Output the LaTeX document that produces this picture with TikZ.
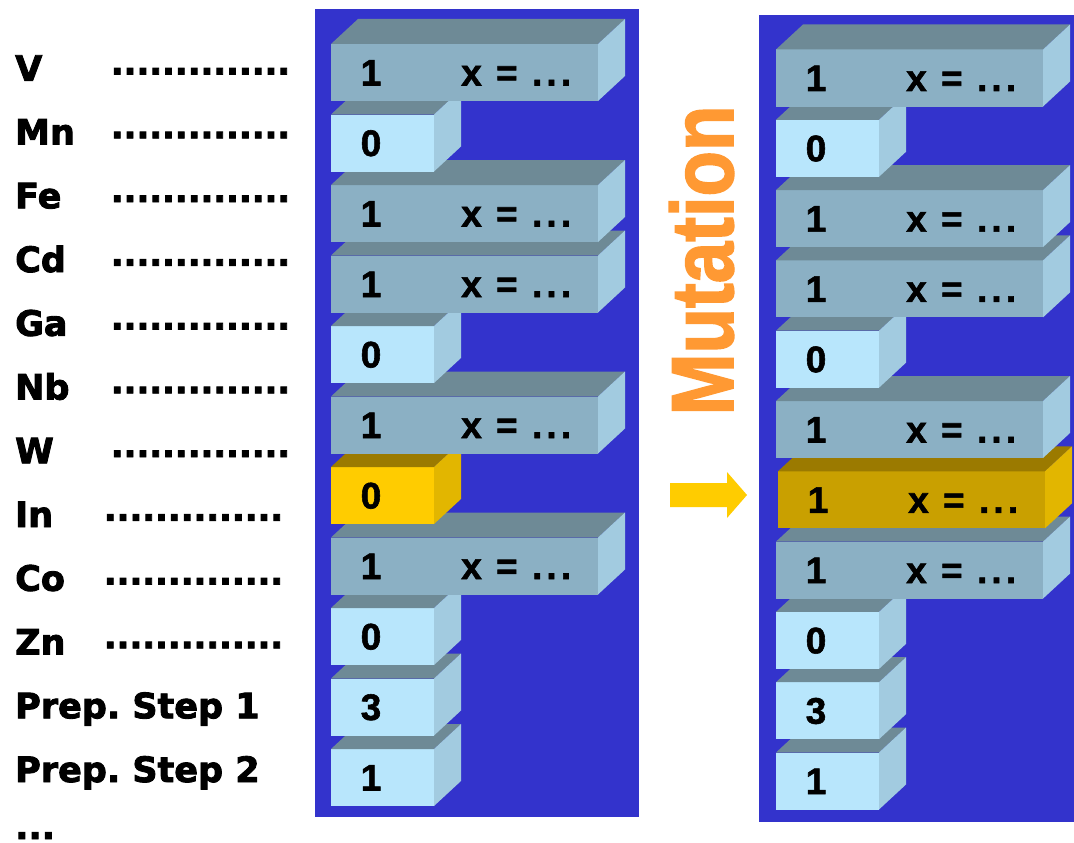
\documentclass[tikz,border=0pt]{standalone}
\usepackage{fontspec}
\usepackage{graphicx}
\newfontfamily\boxfont{Liberation Sans}
\newfontfamily\labfont{DejaVu Sans}

\definecolor{panelblue}{HTML}{3333CC}
\definecolor{slabtop}{HTML}{6E8A96}
\definecolor{slabfront}{HTML}{8BB0C4}
\definecolor{slabside}{HTML}{A2CBE0}
\definecolor{cellfront}{HTML}{B8E6FC}
\definecolor{goldfront}{HTML}{FFCC00}
\definecolor{goldtop}{HTML}{9B7A00}
\definecolor{goldside}{HTML}{E2B600}
\definecolor{ochrefront}{HTML}{C9A000}
\definecolor{mutorange}{HTML}{FF9933}
\definecolor{arrowyellow}{HTML}{FFCC00}

\tikzset{
  face/.style={rectangle, draw=none, inner sep=0pt, outer sep=0pt,
    minimum height=57pt, anchor=west},
  digit/.style={inner sep=0pt, anchor=base,
    font=\boxfont\bfseries\fontsize{37}{37}\selectfont\addfontfeature{FakeBold=1.5}},
  formula/.style={inner sep=0pt, anchor=base west,
    font=\boxfont\bfseries\fontsize{37}{37}\selectfont\addfontfeature{LetterSpace=11,FakeBold=1.5}},
  elem/.style={inner sep=0pt, anchor=base west,
    font=\labfont\bfseries\fontsize{35}{35}\selectfont\addfontfeature{FakeBold=2.5}},
  leader/.style={inner sep=0pt, anchor=base west,
    font=\labfont\bfseries\fontsize{33.7}{33.7}\selectfont\addfontfeature{FakeBold=2.5}},
  panel/.style={fill=panelblue, draw=none},
}

% 3-D box: name, left x, centre y, width, front, top, side colours
\newcommand\solidbox[7]{%
  \node[face, fill=#5, minimum width=#4pt] (#1) at (#2,#3) {};
  \fill[#6] (#1.north west) -- ++(27,-25) -- ++(#4,0) -- (#1.north east) -- cycle;
  \fill[#7] (#1.north east) -- ++(27,-25) -- ++(0,57) -- (#1.south east) -- cycle;
}
% short cell holding one value
\newcommand\cell[6]{% name, x, y, value, front, top/side set
  \solidbox{#1}{#2}{#3}{103}{#5}{#6top}{#6side}
  \node[digit] (#1-v) at ([xshift=40pt,yshift=-13pt]#1.west) {#4};
}
% long slab holding a value and a parameter
\newcommand\slab[6]{% name, x, y, value, front, top/side set
  \solidbox{#1}{#2}{#3}{267}{#5}{#6top}{#6side}
  \node[digit] (#1-v) at ([xshift=40pt,yshift=-13pt]#1.west) {#4};
  \node[formula] (#1-x) at ([xshift=130pt,yshift=-13pt]#1.west) {x = ...};
}

\begin{document}
\begin{tikzpicture}[x={(1pt,0pt)}, y={(0pt,-1pt)}]
\useasboundingbox (0,0) rectangle (1074,843);
\fill[white] (0,0) rectangle (1074,843);

% element list with leaders
\foreach \t [count=\k from 0] in {V,Mn,Fe,Cd,Ga,Nb,W,In,Co,Zn}{
  \pgfmathsetmacro\lx{\k<7 ? 110.7 : 103.7}
  \node[elem] (el-\t) at (15,{68+63.75*\k+12.8}) {\t};
  \node[leader] (ld-\t) at (\lx,{68+63.75*\k+6.5}) {..............};
}
\node[elem] (prep1) at (15,{68+63.75*10+12.8}) {Prep.\ Step 1};
\node[elem] (prep2) at (15,{68+63.75*11+12.8}) {Prep.\ Step 2};
\node[elem] (more) at (15,839) {...};

% panels
\fill[panel] (315,9) rectangle (639,817);
\fill[panel] (759,15) rectangle (1074,822);

% parent genome (drawn bottom-up)
\cell{p10}{331}{777.5}{1}{cellfront}{slab}
\cell{p9}{331}{707}{3}{cellfront}{slab}
\cell{p8}{331}{636.5}{0}{cellfront}{slab}
\slab{p7}{331}{566}{1}{slabfront}{slab}
\cell{p6}{331}{495.5}{0}{goldfront}{gold}
\slab{p5}{331}{425}{1}{slabfront}{slab}
\cell{p4}{331}{354.5}{0}{cellfront}{slab}
\slab{p3}{331}{284}{1}{slabfront}{slab}
\slab{p2}{331}{213.5}{1}{slabfront}{slab}
\cell{p1}{331}{143}{0}{cellfront}{slab}
\slab{p0}{331}{72.5}{1}{slabfront}{slab}

% mutated genome
\cell{m10}{776}{781}{1}{cellfront}{slab}
\cell{m9}{776}{710.7}{3}{cellfront}{slab}
\cell{m8}{776}{640.4}{0}{cellfront}{slab}
\slab{m7}{776}{570.1}{1}{slabfront}{slab}
\slab{m6}{778}{499.8}{1}{ochrefront}{gold}
\slab{m5}{776}{429.5}{1}{slabfront}{slab}
\cell{m4}{776}{359.2}{0}{cellfront}{slab}
\slab{m3}{776}{288.9}{1}{slabfront}{slab}
\slab{m2}{776}{218.6}{1}{slabfront}{slab}
\cell{m1}{776}{148.3}{0}{cellfront}{slab}
\slab{m0}{776}{78}{1}{slabfront}{slab}

% mutation label and arrow
\node[rotate=90, anchor=base, inner sep=0pt, text=mutorange,
      font=\boxfont\bfseries\fontsize{88}{88}\selectfont\addfontfeature{FakeBold=2}]
      (mut) at (733,260.5) {\scalebox{0.845}[1]{Mutation}};
\fill[arrowyellow] (670,483) -- (727,483) -- (727,472) -- (747,495)
  -- (727,518) -- (727,507) -- (670,507) -- cycle;
\end{tikzpicture}
\end{document}
